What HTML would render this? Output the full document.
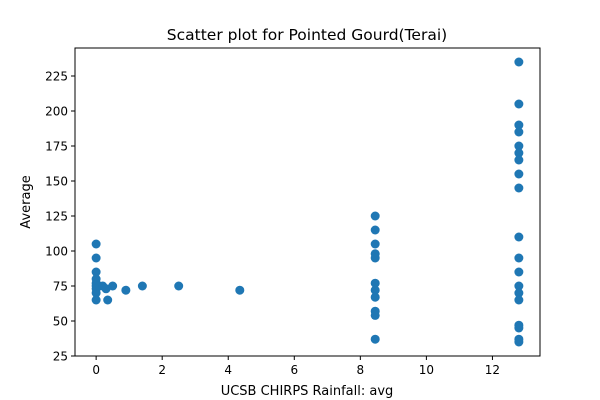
<!DOCTYPE html>
<html><head><meta charset="utf-8"><style>
body{margin:0;background:#fff;}
svg{display:block;font-family:"DejaVu Sans","Liberation Sans",sans-serif;}
</style></head><body>
<svg id="chart" width="600" height="400" viewBox="0 0 600 400">
<rect x="0" y="0" width="600" height="400" fill="#fff"/>
<text x="307" y="40" text-anchor="middle" font-size="15.5">Scatter plot for Pointed Gourd(Terai)</text>
<g id="points"></g>
<g id="axes"></g>
<text x="307" y="395" text-anchor="middle" font-size="13">UCSB CHIRPS Rainfall: avg</text>
<text transform="translate(30,202) rotate(-90)" text-anchor="middle" font-size="13">Average</text>
</svg>
<script>
const xValues = [0,0,0,0,0,0,0,0,0,0.1,0.2,0.3,0.35,0.5,0.9,1.4,2.5,4.35,
 8.45,8.45,8.45,8.45,8.45,8.45,8.45,8.45,8.45,8.45,8.45,
 12.8,12.8,12.8,12.8,12.8,12.8,12.8,12.8,12.8,12.8,12.8,12.8,12.8,12.8,12.8,12.8,12.8,12.8,12.8];
const yValues = [105,95,85,80,77,75,73,70,65,75,75,73,65,75,72,75,75,72,
 125,115,105,98,95,77,72,67,57,54,37,
 235,205,190,185,175,170,165,155,145,110,95,85,75,70,65,47,45,37,35];
const xTicks = [0,2,4,6,8,10,12];
const yTicks = [25,50,75,100,125,150,175,200,225];
const L=75,R=540,T=48,B=356, xmin=-0.64,xmax=13.44,ymin=25,ymax=245;
const sx=v=>L+(v-xmin)/(xmax-xmin)*(R-L);
const sy=v=>B-(v-ymin)/(ymax-ymin)*(B-T);
const NS="http://www.w3.org/2000/svg";
const pg=document.getElementById('points');
xValues.forEach((x,i)=>{
 const c=document.createElementNS(NS,'circle');
 c.setAttribute('cx',sx(x));c.setAttribute('cy',sy(yValues[i]));c.setAttribute('r',4.5);c.setAttribute('fill','#1f77b4');
 
 
 pg.appendChild(c);
});
const ag=document.getElementById('axes');
const fr=document.createElementNS(NS,'rect');
fr.setAttribute('x',L);fr.setAttribute('y',T);fr.setAttribute('width',R-L);fr.setAttribute('height',B-T);
fr.setAttribute('fill','none');fr.setAttribute('stroke','#000');fr.setAttribute('stroke-width','1');


ag.appendChild(fr);
xTicks.forEach(t=>{
 const x=sx(t);
 const l=document.createElementNS(NS,'line');
 l.setAttribute('x1',x);l.setAttribute('x2',x);l.setAttribute('y1',B);l.setAttribute('y2',B+4);l.setAttribute('stroke','#000');
 
 
 ag.appendChild(l);
 const tx=document.createElementNS(NS,'text');
 tx.setAttribute('x',x);tx.setAttribute('y',B+18);tx.setAttribute('text-anchor','middle');tx.setAttribute('font-size','12');
 tx.textContent=t;
 
 
 ag.appendChild(tx);
});
yTicks.forEach(t=>{
 const y=sy(t);
 const l=document.createElementNS(NS,'line');
 l.setAttribute('x1',L-4);l.setAttribute('x2',L);l.setAttribute('y1',y);l.setAttribute('y2',y);l.setAttribute('stroke','#000');
 
 
 ag.appendChild(l);
 const tx=document.createElementNS(NS,'text');
 tx.setAttribute('x',L-7);tx.setAttribute('y',y+4.5);tx.setAttribute('text-anchor','end');tx.setAttribute('font-size','12');
 tx.textContent=t;
 
 
 ag.appendChild(tx);
});
</script>
</body></html>
